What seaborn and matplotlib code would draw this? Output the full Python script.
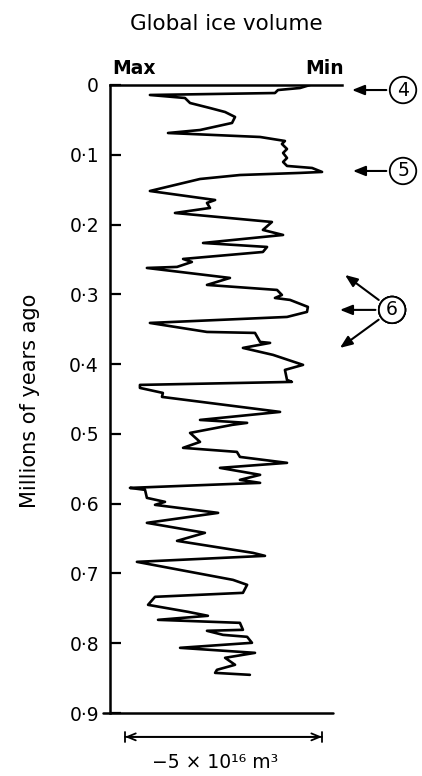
import matplotlib
matplotlib.use("Agg")
import seaborn as sns
from matplotlib import pyplot as plt

# Age of each turning point of the trace (millions of years ago)
age_myr = [0.0, 0.0043, 0.0072, 0.0115, 0.0143, 0.0186, 0.0258, 0.033, 0.0387, 0.0458,
           0.0544, 0.0645, 0.0688, 0.0745, 0.0802, 0.0845, 0.0917, 0.0974, 0.1046, 0.1103,
           0.116, 0.1189, 0.1246, 0.126, 0.129, 0.1347, 0.1519, 0.1648, 0.169, 0.1762,
           0.1834, 0.1963, 0.2077, 0.2149, 0.2264, 0.2321, 0.2393, 0.2493, 0.2536, 0.2607,
           0.2622, 0.2765, 0.2865, 0.2937, 0.3009, 0.3052, 0.308, 0.318, 0.3252, 0.3324,
           0.341, 0.3539, 0.3553, 0.3682, 0.3696, 0.3768, 0.3868, 0.4011, 0.4083, 0.4226,
           0.4255, 0.4298, 0.4341, 0.4413, 0.447, 0.4685, 0.48, 0.4842, 0.4871, 0.4986,
           0.5115, 0.52, 0.5258, 0.533, 0.5415, 0.5487, 0.5587, 0.5659, 0.5702, 0.5774,
           0.5802, 0.5917, 0.5974, 0.6017, 0.6132, 0.6275, 0.6418, 0.6533, 0.6705, 0.6748,
           0.6834, 0.7092, 0.7163, 0.7278, 0.7335, 0.745, 0.755, 0.7607, 0.7665, 0.7708,
           0.7808, 0.7822, 0.788, 0.7908, 0.7994, 0.8066, 0.8138, 0.8209, 0.8309, 0.8381,
           0.8425, 0.8453]
# Relative ice volume: 0 = Max (left), 1 = Min (right)
ice_index = [0.862, 0.819, 0.724, 0.711, 0.172, 0.323, 0.345, 0.431, 0.496, 0.539,
             0.526, 0.388, 0.25, 0.647, 0.754, 0.741, 0.763, 0.746, 0.763, 0.746,
             0.763, 0.871, 0.914, 0.819, 0.56, 0.388, 0.172, 0.453, 0.418, 0.431,
             0.28, 0.698, 0.659, 0.746, 0.401, 0.677, 0.659, 0.315, 0.353, 0.289,
             0.159, 0.517, 0.418, 0.72, 0.741, 0.711, 0.776, 0.853, 0.849, 0.763,
             0.172, 0.418, 0.625, 0.647, 0.69, 0.573, 0.703, 0.832, 0.754, 0.763,
             0.784, 0.129, 0.129, 0.228, 0.224, 0.733, 0.388, 0.591, 0.526, 0.345,
             0.388, 0.315, 0.547, 0.56, 0.763, 0.474, 0.647, 0.56, 0.647, 0.086,
             0.151, 0.159, 0.237, 0.194, 0.466, 0.159, 0.409, 0.289, 0.616, 0.668,
             0.116, 0.53, 0.591, 0.573, 0.194, 0.164, 0.336, 0.422, 0.207, 0.56,
             0.573, 0.418, 0.487, 0.591, 0.612, 0.302, 0.625, 0.496, 0.539, 0.461,
             0.453, 0.603]

tick_values = [0, 0.1, 0.2, 0.3, 0.4, 0.5, 0.6, 0.7, 0.8, 0.9]
tick_labels = ["0", "0·1", "0·2", "0·3", "0·4", "0·5", "0·6", "0·7", "0·8", "0·9"]

sns.set_style("white")
plt.rcParams['font.family'] = ['DejaVu Sans']
plt.rcParams['text.color'] = 'black'
plt.rcParams['ytick.color'] = 'black'
plt.rcParams['axes.labelcolor'] = 'black'

fig = plt.figure(figsize=(4.22, 7.76), dpi=100)
ax = fig.add_axes([110 / 422, 1 - 713 / 776, 232 / 422, 628 / 776])

sns.lineplot(x=ice_index, y=age_myr, sort=False, estimator=None, color='black',
             linewidth=1.9, ax=ax)

ax.set_xlim(0, 1)
ax.set_ylim(0.9, 0)
ax.set_xticks([])
ax.set_yticks(tick_values)
ax.set_yticklabels(tick_labels, fontsize=13.5)
ax.tick_params(axis='y', direction='in', length=8, width=1.6, pad=8, left=True)
ax.set_xlabel('')
ax.set_ylabel('')

for side in ['right', 'bottom']:
    ax.spines[side].set_visible(False)
for side in ['left', 'top']:
    ax.spines[side].set_linewidth(1.8)
    ax.spines[side].set_color('black')
# bottom line runs a bit past the left spine
ax.axhline(0.9, xmin=-0.03, xmax=0.96, color='black', linewidth=1.8, clip_on=False)

# headings
fig.text(226 / 422, 1 - 24 / 776, 'Global ice volume', ha='center', va='center', fontsize=15.5)
fig.text(134 / 422, 1 - 68 / 776, 'Max', ha='center', va='center', fontsize=13.5,
         fontweight='semibold')
fig.text(325 / 422, 1 - 68 / 776, 'Min', ha='center', va='center', fontsize=13.5,
         fontweight='semibold')
fig.text(30 / 422, 1 - 401 / 776, 'Millions of years ago', ha='center', va='center',
         rotation=90, fontsize=15)

# circled markers with arrows
circ = dict(boxstyle='circle,pad=0.2', fc='white', ec='black', lw=1.3)
arr = dict(arrowstyle='-|>,head_length=0.55,head_width=0.22', color='black', lw=1.5,
           shrinkA=2, shrinkB=0)
ax.annotate('4', xy=(1.043, 0.0072), xytext=(1.263, 0.0072), ha='center', va='center',
            fontsize=13.5, bbox=circ, arrowprops=arr, annotation_clip=False)
ax.annotate('5', xy=(1.047, 0.1232), xytext=(1.263, 0.1232), ha='center', va='center',
            fontsize=13.5, bbox=circ, arrowprops=arr, annotation_clip=False)
for tip in [(0.991, 0.3223), (1.013, 0.2722), (0.991, 0.3768)]:
    ax.annotate('6', xy=tip, xytext=(1.216, 0.3223), ha='center', va='center',
                fontsize=13.5, bbox=circ, arrowprops=arr, annotation_clip=False)

# scale bar
bar_coords = ('data', 'axes fraction')
ax.annotate('', xy=(0.914, -0.038), xytext=(0.065, -0.038),
            xycoords=bar_coords, textcoords=bar_coords,
            arrowprops=dict(arrowstyle='<->,head_length=0.6,head_width=0.25', color='black',
                            lw=1.3, shrinkA=0, shrinkB=0))
ax.annotate('', xy=(0.914, -0.038), xytext=(0.065, -0.038),
            xycoords=bar_coords, textcoords=bar_coords,
            arrowprops=dict(arrowstyle='|-|,widthA=0.35,widthB=0.35', color='black',
                            lw=1.3, shrinkA=0, shrinkB=0))
fig.text(215 / 422, 1 - 762 / 776, '−5 × 10¹⁶ m³', ha='center', va='center', fontsize=13.5)

fig.savefig('out.png', dpi=100)
